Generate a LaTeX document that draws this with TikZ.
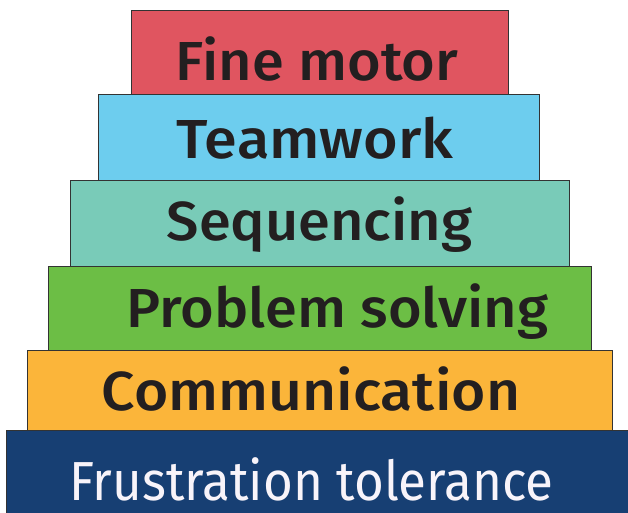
\documentclass[tikz,border=0pt]{standalone}
\usepackage{fontspec}
\setmainfont{Fira Sans}
\newfontfamily\medfont{Fira Sans Medium}
\definecolor{finered}{HTML}{E05560}
\definecolor{teamblue}{HTML}{6DCDEE}
\definecolor{seqteal}{HTML}{79CBB8}
\definecolor{probgreen}{HTML}{6CBE45}
\definecolor{commorange}{HTML}{FBB53A}
\definecolor{frustblue}{HTML}{173F73}
\definecolor{textdark}{HTML}{231F20}
\definecolor{textlight}{HTML}{F8F4FA}
\newcommand{\widetext}[2]{\scalebox{#1}[1]{#2}}
\tikzset{
  layer/.style={draw=black!80,line width=1pt},
  skill/.style={anchor=base,inner sep=0pt,text depth=0pt,text=textdark,
    font=\medfont\fontsize{55}{60}\selectfont},
}
\begin{document}
\begin{tikzpicture}[x=1pt,y=-1pt]
		\useasboundingbox (0,0) rectangle (628,512);
		\clip (0,0) rectangle (628,512);
		% the steps, top to bottom
		\draw[layer,fill=finered](131,10) rectangle (508,94);
		\draw[layer,fill=teamblue](98,94) rectangle (539,180);
		\draw[layer,fill=seqteal](70,180) rectangle (569,266);
		\draw[layer,fill=probgreen](48,266) rectangle (591,350);
		\draw[layer,fill=commorange](27,350) rectangle (612,430);
		\draw[layer,fill=frustblue](6,430) rectangle (640,520);
		% labels
		\node[skill] (fine) at (317,80) {\widetext{1.05}{Fine motor}};
		\node[skill] (team) at (315,158) {\widetext{1.08}{Teamwork}};
		\node[skill] (seq) at (319.5,240) {\widetext{1.05}{Sequencing}};
		\node[skill] (prob) at (337.5,327) {\widetext{1.05}{Problem solving}};
		\node[skill] (comm) at (311,410) {\widetext{1.07}{Communication}};
		\node[skill,text=textlight,font=\fontsize{55}{60}\selectfont] (frust) at (311.5,500) {\widetext{0.93}{Frustration tolerance}};
		\end{tikzpicture}
\end{document}
